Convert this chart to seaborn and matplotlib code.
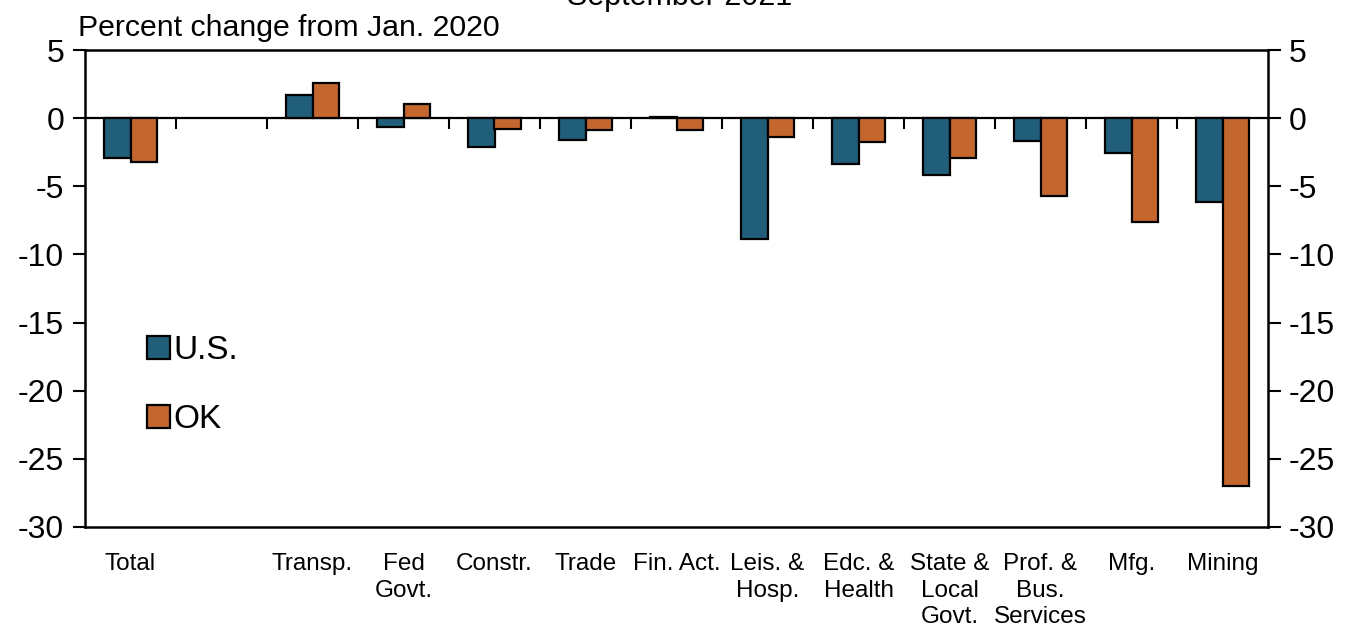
import numpy as np
import pandas as pd
import matplotlib
matplotlib.use("Agg")
import matplotlib.pyplot as plt
import seaborn as sns

categories = ["Total", " ", "Transp.", "Fed\nGovt.", "Constr.", "Trade", "Fin. Act.",
              "Leis. &\nHosp.", "Edc. &\nHealth", "State &\nLocal\nGovt.",
              "Prof. &\nBus.\nServices", "Mfg.", "Mining"]
us_values = [-2.9, np.nan, 1.73, -0.64, -2.15, -1.61, 0.1, -8.88, -3.33, -4.14, -1.67, -2.55, -6.14]
ok_values = [-3.2, np.nan, 2.57, 1.03, -0.83, -0.88, -0.88, -1.37, -1.76, -2.93, -5.72, -7.61, -27.0]
series_names = ["U.S.", "OK"]
y_ticks = [5, 0, -5, -10, -15, -20, -25, -30]

sns.set_style("ticks")
plt.rcParams['font.family'] = ['Liberation Sans Narrow', 'Liberation Sans', 'DejaVu Sans']
plt.rcParams.update({"text.color": "black", "axes.labelcolor": "black",
                     "xtick.color": "black", "ytick.color": "black"})

df = pd.DataFrame({
    "cat": categories * 2,
    "val": us_values + ok_values,
    "series": [series_names[0]] * len(categories) + [series_names[1]] * len(categories),
})

fig = plt.figure(figsize=(13.54, 6.36), dpi=100)
ax = fig.add_axes([85/1354, 1-527/636, (1268-85)/1354, (527-50)/636])

palette = {"U.S.": "#215E79", "OK": "#C4672E"}
sns.barplot(data=df, x="cat", y="val", hue="series", order=categories,
            hue_order=series_names, palette=palette, width=0.58,
            edgecolor="black", linewidth=1.6, saturation=1, ax=ax, errorbar=None)

ax.set_ylim(-30, 5)
ax.set_xlim(-0.5, len(categories) - 0.5)
ax.set_yticks(y_ticks)
ax.set_yticklabels([str(t) for t in y_ticks])
ax.tick_params(axis="y", direction="out", length=9, width=1.5, labelsize=23, pad=6)
ax.tick_params(axis="x", length=0, labelsize=17.5, pad=19)
for lbl in ax.get_xticklabels():
    lbl.set_linespacing(1.25)
ax.set_xlabel("")
ax.set_ylabel("")
for s in ax.spines.values():
    s.set_visible(True)
    s.set_linewidth(1.8)
    s.set_color("black")

# right axis
ax2 = ax.twinx()
ax2.set_ylim(ax.get_ylim())
ax2.set_yticks(y_ticks)
ax2.set_yticklabels([str(t) for t in y_ticks])
ax2.tick_params(axis="y", direction="out", length=9, width=1.5, labelsize=23, pad=6)
for s in ax2.spines.values():
    s.set_visible(False)

# zero line with boundary ticks
sec = ax.secondary_xaxis(0, transform=ax.transData)
sec.set_xticks(np.arange(len(categories) - 1) + 0.5)
sec.set_xticklabels([])
sec.tick_params(axis="x", direction="out", length=8, width=1.5, color="black")
sec.spines["bottom"].set_linewidth(1.6)
sec.spines["bottom"].set_color("black")

ax.legend(loc="center left", bbox_to_anchor=(0.027, 0.297), frameon=False,
          fontsize=24, handlelength=0.7, handleheight=0.7, handletextpad=0.1,
          labelspacing=1.15)

fig.text(78/1354, 1-36/636, "Percent change from Jan. 2020", fontsize=21.8,
         ha="left", va="baseline")
fig.text(0.502, 1-5/636, "September 2021", fontsize=22, ha="center", va="baseline")

fig.savefig("out.png", dpi=100)
